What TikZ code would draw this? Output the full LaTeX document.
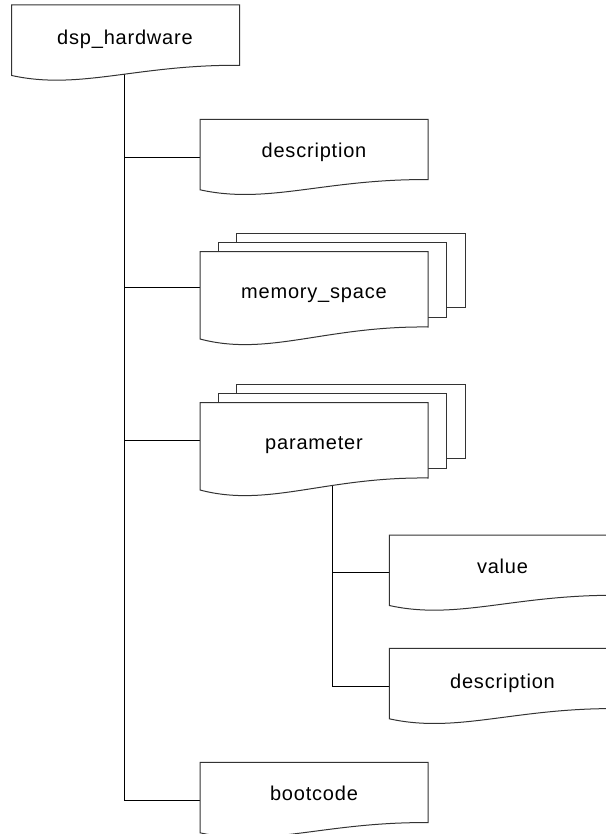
\documentclass[tikz,border=0pt]{standalone}
\usepackage{fontspec}
\newfontfamily\lblfont{Liberation Sans}[LetterSpace=4]
\begin{document}
\begin{tikzpicture}[x=1pt,y=-1pt,
  boxline/.style={draw=black!80,line width=1pt,fill=white,line join=miter},
  conn/.style={draw=black,line width=1pt},
  lbl/.style={font=\lblfont\fontsize{20}{24}\selectfont,anchor=base,inner sep=0pt},
  docbox/.pic={
    \path[boxline] (0,0) -- (228,0) -- (228,60.3)
      .. controls (125,59.5) and (68,85.5) .. (0,70.5) -- cycle;
  },
  multidoc/.pic={
    \path[boxline] (36.7,-18.7) rectangle (265,55.7);
    \path[boxline] (18.7,-9.3) rectangle (246.7,65.6);
    \path[boxline] (0,0) -- (228,0) -- (228,75.3)
      .. controls (125,74.1) and (68,105.3) .. (0,87.3) -- cycle;
  }]
\useasboundingbox (0,0) rectangle (605,834);
\fill[white] (0,0) rectangle (605,834);
% connection coordinates
\coordinate (trunktop) at (124.5,60);
\coordinate (desc1in) at (200,157.3);
\coordinate (memin) at (200,287.7);
\coordinate (paramin) at (200,440.7);
\coordinate (bootin) at (200,800);
\coordinate (paramout) at (332.7,470);
\coordinate (valuein) at (389.3,572.7);
\coordinate (desc2in) at (389.3,686);
% connectors
\draw[conn] (trunktop) |- (bootin);
\draw[conn] (trunktop |- desc1in) -- (desc1in);
\draw[conn] (trunktop |- memin) -- (memin);
\draw[conn] (trunktop |- paramin) -- (paramin);
\draw[conn] (paramout) |- (desc2in);
\draw[conn] (paramout |- valuein) -- (valuein);
% boxes
\pic at (11.7,5) {docbox};
\pic at (200,119.3) {docbox};
\pic at (200,251.7) {multidoc};
\pic at (200,402.7) {multidoc};
\pic at (389.3,535) {docbox};
\pic at (389.3,648.3) {docbox};
\pic at (200,762.3) {docbox};
% labels
\node[lbl] (dsp) at (125,45) {dsp\_hardware};
\node[lbl] (desc1) at (314,157.7) {description};
\node[lbl] (mem) at (314,298.3) {memory\_space};
\node[lbl] (param) at (314,449.3) {parameter};
\node[lbl] (value) at (502.5,573.3) {value};
\node[lbl] (desc2) at (502.5,688) {description};
\node[lbl] (boot) at (314,800) {bootcode};
\end{tikzpicture}
\end{document}
